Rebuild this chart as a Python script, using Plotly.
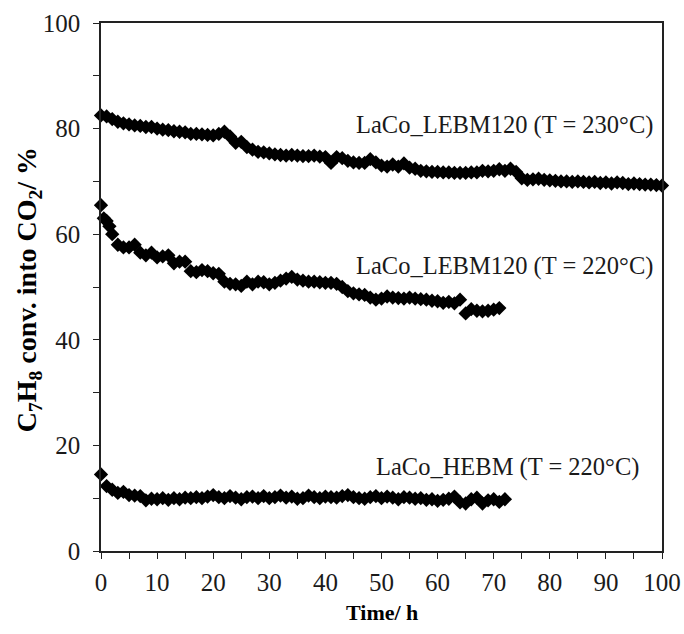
import plotly.graph_objects as go

FONT = "Liberation Serif, Times New Roman, serif"
INK = "#000000"
AXIS = "#222222"

# ── Data ─────────────────────────────────────────────────────────────────
time_230 = list(range(0, 101))
conv_230 = [
    82.5, 82.3, 81.8, 81.3, 81.0, 80.8, 80.6, 80.5, 80.3, 80.3,
    80.0, 79.8, 79.7, 79.5, 79.4, 79.3, 79.0, 79.0, 78.9, 78.8,
    78.7, 79.0, 79.4, 78.5, 77.3, 77.5, 76.5, 76.0, 75.6, 75.5,
    75.3, 75.1, 75.0, 74.9, 75.0, 74.9, 74.8, 74.8, 74.9, 74.7,
    74.6, 73.5, 74.6, 74.4, 73.9, 73.6, 73.5, 73.5, 74.2, 73.6,
    73.0, 72.8, 73.2, 72.8, 73.4, 72.6, 72.4, 72.0, 71.9, 71.8,
    71.8, 71.7, 71.7, 71.6, 71.6, 71.6, 71.7, 71.7, 72.0, 71.9,
    72.0, 72.3, 72.0, 72.4, 71.8, 70.6, 70.3, 70.4, 70.5, 70.3,
    70.2, 70.1, 70.0, 70.0, 69.9, 70.0, 69.9, 69.8, 69.9, 69.7,
    69.8, 69.6, 69.8, 69.7, 69.5, 69.6, 69.5, 69.4, 69.4, 69.3,
    69.2,
]

time_220 = [0, 0.5, 1, 1.5, 2] + list(range(3, 72))
conv_220 = [
    65.5, 63.0, 62.5, 61.5, 60.0,
    58.0, 57.5, 57.5, 58.0, 56.5, 56.0, 56.5, 55.6, 55.8, 56.0,
    54.5, 54.8, 54.8, 53.0, 52.8, 53.2, 53.0, 52.6, 52.5, 51.0,
    50.6, 50.5, 50.2, 51.0, 50.5, 51.0, 50.9, 50.5, 50.8, 51.2,
    51.6, 51.9, 51.4, 51.2, 51.0, 51.0, 50.9, 50.8, 50.8, 50.6,
    50.0, 49.2, 48.8, 48.6, 48.5, 48.0, 47.6, 47.8, 48.2, 48.0,
    47.9, 47.8, 48.0, 47.8, 47.7, 47.6, 47.4, 47.3, 47.0, 47.2,
    46.9, 47.6, 45.0, 45.8, 45.5, 45.4, 45.5, 45.7, 46.0,
]

time_hebm = list(range(0, 73))
conv_hebm = [
    14.5, 12.3, 11.6, 11.0, 11.2, 10.6, 10.5, 10.4, 9.6, 9.9,
    9.8, 10.0, 9.7, 10.0, 9.8, 10.1, 10.0, 10.2, 10.0, 10.3,
    10.6, 10.2, 10.0, 10.4, 10.1, 9.8, 10.2, 10.3, 10.0, 10.4,
    10.0, 10.2, 10.5, 10.1, 10.3, 9.9, 10.0, 10.5, 10.2, 10.0,
    10.3, 10.2, 10.1, 10.4, 10.6, 10.2, 10.0, 9.9, 10.2, 10.4,
    10.0, 10.3, 10.1, 9.8, 10.2, 10.1, 9.9, 10.0, 9.7, 9.8,
    9.5, 9.7, 9.9, 10.3, 9.2, 9.0, 9.8, 10.1, 9.0, 9.6,
    9.8, 9.3, 9.8,
]

labels = [
    "LaCo_LEBM120 (T = 230°C)",
    "LaCo_LEBM120 (T = 220°C)",
    "LaCo_HEBM (T = 220°C)",
]
label_x = [98.8, 98.8, 96.2]
label_y = [80.7, 54.0, 15.9]

fig = go.Figure()

for t, c in [(time_230, conv_230), (time_220, conv_220), (time_hebm, conv_hebm)]:
    fig.add_trace(go.Scatter(
        x=t, y=c, mode="markers", cliponaxis=False, showlegend=False,
        marker=dict(symbol="diamond", size=11, color=INK),
    ))

for txt, lx, ly in zip(labels, label_x, label_y):
    fig.add_annotation(
        x=lx, y=ly, text=txt, showarrow=False, xanchor="right",
        yanchor="middle", font=dict(family=FONT, size=24.5, color="#1a1a1a"),
    )

# axis titles placed by hand (automargin off keeps the plot box fixed)
fig.add_annotation(
    xref="paper", yref="paper", x=0.5, y=-0.117, text="<b>Time/ h</b>",
    showarrow=False, xanchor="center", yanchor="middle",
    font=dict(family=FONT, size=22, color=INK),
)
fig.add_annotation(
    xref="paper", yref="paper", x=-0.13, y=0.494, textangle=-90,
    text="<b>C<sub>7</sub>H<sub>8</sub> conv. into CO<sub>2</sub>/ %</b>",
    showarrow=False, xanchor="center", yanchor="middle",
    font=dict(family=FONT, size=28, color=INK),
)

axis_common = dict(
    showline=True, linecolor=AXIS, linewidth=1.5, mirror=True,
    ticks="outside", ticklen=6, tickwidth=1.3, tickcolor=AXIS,
    showgrid=False, zeroline=False, automargin=False,
    tickfont=dict(family=FONT, size=25, color="#1a1a1a"),
)

fig.update_layout(
    width=684, height=634,
    paper_bgcolor="white", plot_bgcolor="white",
    margin=dict(l=101, r=22, t=23, b=83),
    xaxis=dict(
        **axis_common, range=[0, 100], dtick=10, tick0=0,
        minor=dict(dtick=5, ticks="outside", ticklen=6, tickwidth=1.3,
                   tickcolor=AXIS),
        ticklabelstandoff=2,
    ),
    yaxis=dict(
        **axis_common, range=[0, 100], dtick=20, tick0=0,
        minor=dict(dtick=10, ticks="outside", ticklen=6, tickwidth=1.3,
                   tickcolor=AXIS),
        ticklabelstandoff=8,
    ),
)

# drop the default 8px body margin so the figure sits at the page origin
fig.write_html("out.html", config={"displayModeBar": False},
               post_script="document.body.style.margin='0';")
